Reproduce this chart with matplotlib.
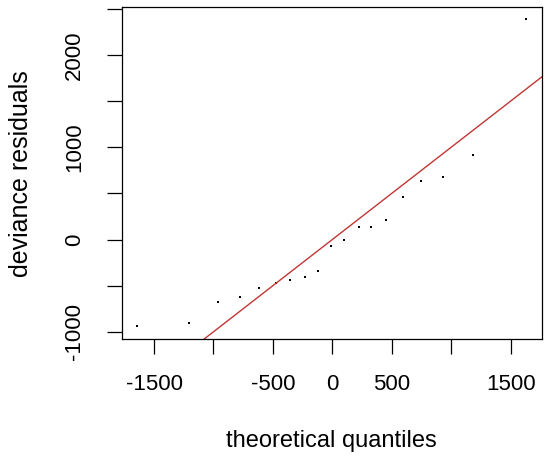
import numpy as np
import matplotlib; matplotlib.use("Agg")
import matplotlib.pyplot as plt

plt.rcParams["font.family"] = ["Liberation Sans", "DejaVu Sans"]

# theoretical quantiles vs sorted deviance residuals
theo = [-1640, -1205, -959, -774, -614, -474, -353, -227, -118, -13,
        96, 222, 328, 454, 592, 749, 934, 1181, 1632]
resid = [-937, -901, -680, -623, -522, -468, -442, -403, -341, -67,
         -5, 135, 135, 215, 457, 634, 674, 912, 2392]

xticks = [-1500, -1000, -500, 0, 500, 1000, 1500]
xlabels = ["-1500", "", "-500", "0", "500", "", "1500"]
yticks = [-1000, -500, 0, 500, 1000, 1500, 2000, 2500]
ylabels = ["-1000", "", "0", "", "1000", "", "2000", ""]

fig = plt.figure(figsize=(5.44, 4.61), dpi=100)
ax = fig.add_axes([0.2243, 0.264, 0.9958 - 0.2243, 0.9848 - 0.264])

ax.plot(theo, resid, "s", color="black", ms=1.6, mew=0)
ax.axline((0, 0), slope=1, color="#c03634", lw=1.0)

ax.set_xlim(-1769, 1761)
ax.set_ylim(-1081, 2519)
ax.set_xticks(xticks)
ax.set_xticklabels(xlabels)
ax.set_yticks(yticks)
ax.set_yticklabels(ylabels, rotation=90, va="center")

ax.tick_params(direction="out", length=10.8, width=0.9, labelsize=16,
               colors="black", pad=14)
ax.tick_params(axis="y", pad=16)
for s in ax.spines.values():
    s.set_linewidth(0.9)

ax.set_xlabel("theoretical quantiles", fontsize=17, va="center")
ax.set_ylabel("deviance residuals", fontsize=18, va="center")
ax.xaxis.set_label_coords(0.5, -0.306)
ax.yaxis.set_label_coords(-0.24, 0.5)

fig.savefig("out.png", dpi=100)
